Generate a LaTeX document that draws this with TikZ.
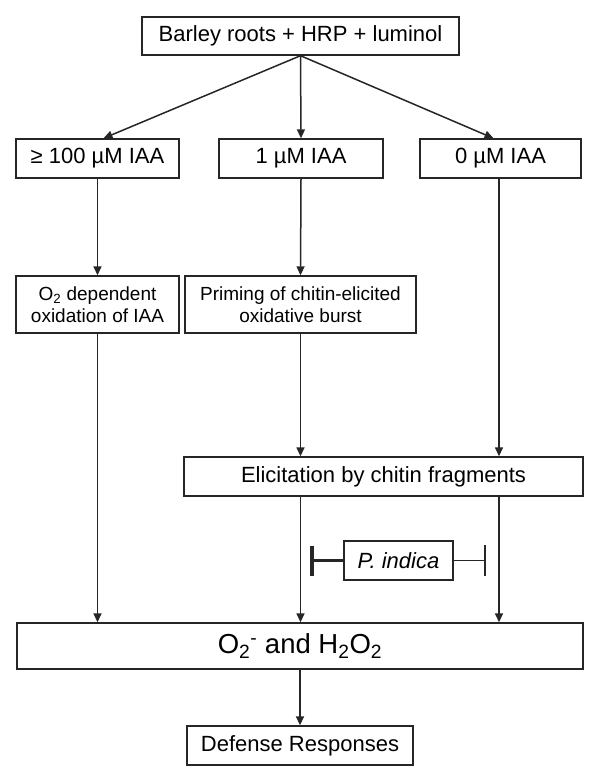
\documentclass[tikz,border=0pt]{standalone}
\usepackage{fontspec}
\setmainfont{Liberation Sans}
\usetikzlibrary{arrows.meta,calc}
\begin{document}
\begin{tikzpicture}[x=1pt,y=-1pt,
  box/.style={draw=black!85, line width=1.4pt, rectangle, inner sep=0pt, align=center},
  big/.style={font=\fontsize{22}{26}\selectfont},
  small/.style={font=\fontsize{19}{22}\selectfont},
  huge/.style={font=\fontsize{27.5}{31}\selectfont},
  conn/.style={draw=black!85, line width=1.5pt, -{Triangle[length=9pt,width=8pt]}},
  plain/.style={draw=black!85, line width=1.5pt}]
\useasboundingbox (0,0) rectangle (600,783);
\fill[white] (0,0) rectangle (600,783);

\node[box,big,minimum width=317pt,minimum height=38pt] (top) at (300.5,36) {Barley roots + HRP + luminol};
\node[box,big,minimum width=163pt,minimum height=39pt] (b1) at (97.5,158.5) {≥ 100 µM IAA};
\node[box,big,minimum width=164pt,minimum height=39pt] (b2) at (301,158.5) {1 µM IAA};
\node[box,big,minimum width=161pt,minimum height=39pt] (b3) at (500.5,158.5) {0 µM IAA};
\node[box,small,minimum width=163pt,minimum height=57pt] (o2) at (97.5,304.5) {O\textsubscript{2} dependent\\oxidation of IAA};
\node[box,small,minimum width=231pt,minimum height=57pt] (prim) at (300.5,304.5) {Priming of chitin-elicited\\oxidative burst};
\node[box,big,minimum width=399pt,minimum height=39pt] (elic) at (383.5,476.5) {Elicitation by chitin fragments};
\node[box,big,minimum width=109pt,minimum height=39pt] (pind) at (398.5,560.5) {\itshape P. indica};
\node[box,huge,minimum width=566pt,minimum height=46pt] (ros) at (300,646) {O\textsubscript{2}\textsuperscript{-} and H\textsubscript{2}O\textsubscript{2}};
\node[box,big,minimum width=226pt,minimum height=39pt] (def) at (300,745.5) {Defense Responses};

\coordinate (inhL) at (312,560.5);
\coordinate (inhR) at (485,560.5);

% top branches
\draw[conn] (top.south) -- ($(b1.north)+(6,0)$);
\draw[conn] (top.south) -- (b2.north);
\draw[conn] (top.south) -- ($(b3.north)+(-7,0)$);

% columns
\draw[conn] (b1.south) -- (o2.north);
\draw[conn] (b2.south) -- (prim.north);
\draw[conn] ($(b3.south)+(-1.5,0)$) -- ($(b3.south |- elic.north)+(-1.5,0)$);
\draw[conn] (prim.south) -- (prim.south |- elic.north);
\draw[conn] (o2.south) -- (o2.south |- ros.north);
\draw[conn] (elic.south -| prim.south) -- (ros.north -| prim.south);
\draw[conn] ($(elic.south -| b3.south)+(-1.5,0)$) -- ($(ros.north -| b3.south)+(-1.5,0)$);
\draw[conn] (ros.south) -- (def.north);

% P. indica inhibition
\draw[draw=black!85, line width=3.5pt] (pind.west) -- (inhL);
\draw[draw=black!85, line width=4.5pt] ($(inhL)+(0,-15)$) -- ($(inhL)+(0,15)$);
\draw[plain] (pind.east) -- (inhR);
\draw[plain] ($(inhR)+(0,-15.5)$) -- ($(inhR)+(0,15.5)$);
\end{tikzpicture}
\end{document}
